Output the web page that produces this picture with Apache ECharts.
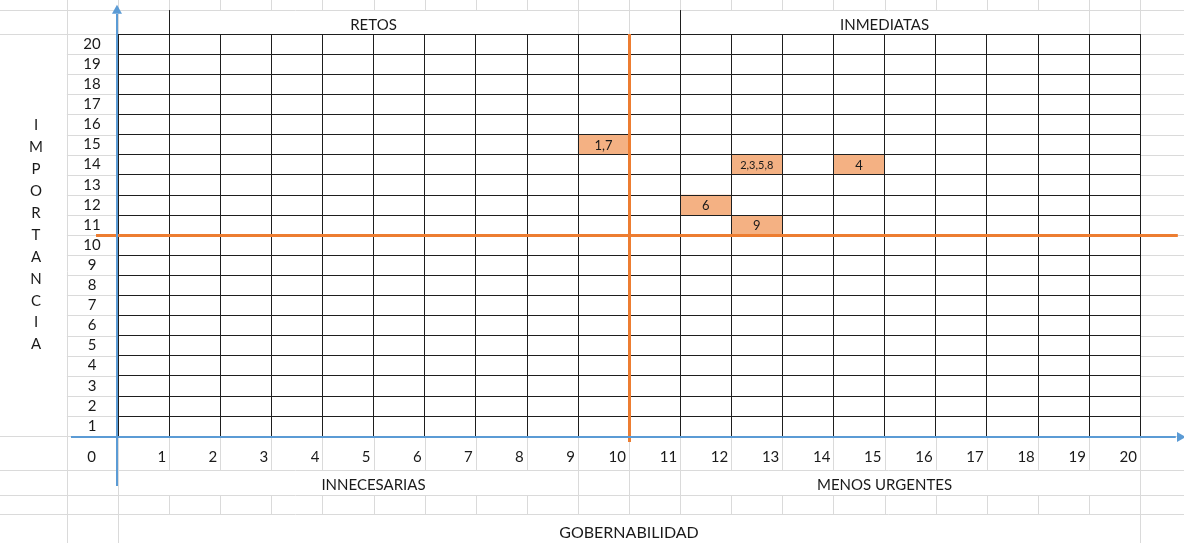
<!DOCTYPE html>
<html><head><meta charset="utf-8">
<script src="https://cdn.jsdelivr.net/npm/echarts@6/dist/echarts.min.js"></script>
<style>html,body{margin:0;padding:0;background:#fff}#c{width:1184px;height:543px}</style>
</head><body><div id="c"></div>
<script>
// ---- data ----
const xTickLabels = ['0', '1', '2', '3', '4', '5', '6', '7', '8', '9', '10', '11', '12', '13', '14', '15', '16', '17', '18', '19', '20'];
const yTickLabels = ['', '1', '2', '3', '4', '5', '6', '7', '8', '9', '10', '11', '12', '13', '14', '15', '16', '17', '18', '19', '20'];
const cellX = [10, 13, 15, 12, 13];
const cellY = [15, 14, 14, 12, 11];
const cellLabels = ['1,7', '2,3,5,8', '4', '6', '9'];
const quadrantNames = ['RETOS', 'INMEDIATAS', 'INNECESARIAS', 'MENOS URGENTES'];
const xAxisTitle = 'GOBERNABILIDAD';
const yAxisTitle = 'IMPORTANCIA';
const splitX = 10;
const splitY = 10;

// ---- layout (data units of the main grid) ----
const FONT = 'Lato, "Noto Sans", sans-serif';
const HEADER_TOP = 21.19, TOP_EDGE = 21.9, ROW1_B = -1.69, ROW2_B = -2.94, ROW3_B = -3.88, BOTTOM_EDGE = -5.6;
const LEFT_EDGE = -2.4, RIGHT_EDGE = 21.2;

const sheet = []; // [x1,y1,x2,y2,style]
const L = 0, B = 1, O = 2, U = 3;
sheet.push([LEFT_EDGE, HEADER_TOP, RIGHT_EDGE, HEADER_TOP, L]);
[ROW1_B, ROW2_B, ROW3_B].forEach(y => sheet.push([LEFT_EDGE, y, RIGHT_EDGE, y, L]));
for (let y = 0; y <= 20; y++) {
  sheet.push([(y === 0 || y === 20) ? LEFT_EDGE : -1, y, 0, y, L]);
  sheet.push([20, y, RIGHT_EDGE, y, L]);
}
sheet.push([-1, TOP_EDGE, -1, BOTTOM_EDGE, L]);
sheet.push([0, TOP_EDGE, 0, BOTTOM_EDGE, L]);
for (let x = 1; x <= 20; x++) {
  sheet.push([x, HEADER_TOP, x, TOP_EDGE, L]);
  if (x < 20) {
    sheet.push([x, 0, x, ROW1_B, L]);
    sheet.push([x, ROW2_B, x, ROW3_B, L]);
  }
}
[9, 10, 11].forEach(x => sheet.push([x, ROW1_B, x, ROW2_B, L]));
sheet.push([20, 0, 20, BOTTOM_EDGE, L]);
[9, 10, 19, 20].forEach(x => sheet.push([x, 20, x, HEADER_TOP, L]));
[1, 11].forEach(x => sheet.push([x, 20, x, HEADER_TOP, B]));

const guides = [
  [splitX, 20, splitX, -0.3, O],
  [-0.43, splitY, 20.74, splitY, O],
  [-0.02, -2.49, -0.02, 21.0, U],
  [-0.92, -0.05, 20.7, -0.05, U]
];
const arrows = [[-0.02, 21.45, 0], [20.9, -0.05, 1]];

const styles = [
  { stroke: '#dadada', lineWidth: 1 },
  { stroke: '#1e1e1e', lineWidth: 1 },
  { stroke: '#ed7d31', lineWidth: 3 },
  { stroke: '#5b9bd5', lineWidth: 2 }
];

function lineItem(params, api) {
  const s = styles[api.value(4)];
  let p1 = api.coord([api.value(0), api.value(1)]);
  let p2 = api.coord([api.value(2), api.value(3)]);
  const off = s.lineWidth % 2 === 1 ? 0.5 : 0;
  if (Math.abs(p1[0] - p2[0]) < 1) { const x = Math.round(p1[0]) + off; p1[0] = x; p2[0] = x; }
  if (Math.abs(p1[1] - p2[1]) < 1) { const y = Math.round(p1[1]) + off; p1[1] = y; p2[1] = y; }
  return { type: 'line', shape: { x1: p1[0], y1: p1[1], x2: p2[0], y2: p2[1] }, style: { stroke: s.stroke, lineWidth: s.lineWidth } };
}

const chart = echarts.init(document.getElementById('c'), null, { renderer: 'canvas' });
chart.setOption({
  animation: false,
  backgroundColor: '#fff',
  grid: { left: 118, top: 34, width: 1022, height: 402, containLabel: false, outerBoundsMode: 'none', show: false },
  xAxis: {
    type: 'value', min: 0, max: 20, interval: 1, z: 3,
    axisLine: { show: false }, axisTick: { show: false },
    splitLine: { show: true, lineStyle: { color: '#1e1e1e', width: 1 } },
    axisLabel: {
      formatter: v => v === 0 ? '{z|' + xTickLabels[0] + '}' : (xTickLabels[v] ?? ''),
      align: 'right', padding: [0, 3, 0, 0],
      margin: 13, fontSize: 15, lineHeight: 16, color: '#1a1a1a', fontFamily: FONT,
      showMinLabel: true, showMaxLabel: true, hideOverlap: false,
      rich: { z: { fontSize: 15, lineHeight: 16, padding: [0, 19, 0, 0], fontFamily: FONT, color: '#1a1a1a' } }
    },
    name: xAxisTitle, nameLocation: 'middle', nameGap: 89,
    nameTextStyle: { fontSize: 16, color: '#1a1a1a', fontFamily: FONT }
  },
  yAxis: {
    type: 'value', min: 0, max: 20, interval: 1, z: 3,
    axisLine: { show: false }, axisTick: { show: false },
    splitLine: { show: true, lineStyle: { color: '#1e1e1e', width: 1 } },
    axisLabel: {
      formatter: v => yTickLabels[v] ?? '',
      align: 'center', verticalAlign: 'top', margin: 26, fontSize: 15, lineHeight: 20,
      color: '#1a1a1a', fontFamily: FONT, showMaxLabel: true, hideOverlap: false
    },
    name: yAxisTitle.split('').join('\n'), nameLocation: 'middle', nameGap: 82, nameRotate: 0,
    nameTextStyle: { fontSize: 15, lineHeight: 21.9, align: 'center', verticalAlign: 'middle', color: '#1a1a1a', fontFamily: FONT }
  },
  series: [
    { type: 'custom', z: 0, silent: true, clip: false, data: sheet, renderItem: lineItem },
    {
      type: 'custom', z: 1, silent: true, clip: false,
      data: cellX.map((x, i) => [x, cellY[i], i]),
      renderItem: (params, api) => {
        const x = api.value(0), y = api.value(1), i = api.value(2);
        const a = api.coord([x - 1, y]), b = api.coord([x, y - 1]);
        const t = cellLabels[i];
        return {
          type: 'group', children: [
            { type: 'rect', shape: { x: a[0], y: a[1], width: b[0] - a[0], height: b[1] - a[1] }, style: { fill: '#f4b183' } },
            { type: 'text', z2: 10, style: { x: (a[0] + b[0]) / 2, y: (a[1] + b[1]) / 2 + 1, text: t, fill: '#1a1a1a',
              fontSize: t.length > 3 ? 11 : 13, fontFamily: FONT, align: 'center', verticalAlign: 'middle' } }
          ]
        };
      }
    },
    { type: 'custom', z: 5, silent: true, clip: false, data: guides, renderItem: lineItem },
    {
      type: 'custom', z: 6, silent: true, clip: false, data: arrows,
      renderItem: (params, api) => {
        const p = api.coord([api.value(0), api.value(1)]);
        const d = api.value(2);
        const pts = d === 0
          ? [[p[0], p[1]], [p[0] - 5, p[1] + 9], [p[0] + 5, p[1] + 9]]
          : [[p[0], p[1]], [p[0] - 9, p[1] - 5], [p[0] - 9, p[1] + 5]];
        return { type: 'polygon', shape: { points: pts }, style: { fill: '#5b9bd5' } };
      }
    },
    {
      type: 'custom', z: 4, silent: true, clip: false,
      data: [[5, 20.45, 0], [15, 20.45, 1], [5, -2.43, 2], [15, -2.43, 3]],
      renderItem: (params, api) => {
        const p = api.coord([api.value(0), api.value(1)]);
        return { type: 'text', style: { x: p[0], y: p[1], text: quadrantNames[api.value(2)], fill: '#1a1a1a',
          fontSize: 15, fontFamily: FONT, align: 'center', verticalAlign: 'middle' } };
      }
    }
  ]
});
</script></body></html>
